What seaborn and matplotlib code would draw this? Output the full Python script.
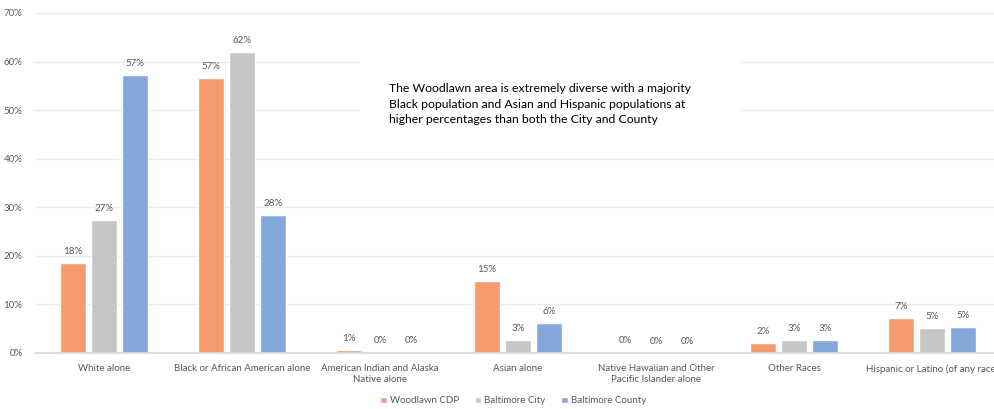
import matplotlib
matplotlib.use("Agg")
import matplotlib.pyplot as plt
import matplotlib.patches as mpatches
import pandas as pd
import seaborn as sns

# chart data (percent of population)
categories = ["White alone", "Black or African American alone",
              "American Indian and Alaska\nNative alone", "Asian alone",
              "Native Hawaiian and Other\nPacific Islander alone", "Other Races",
              "Hispanic or Latino (of any race)"]
series = ["Woodlawn CDP", "Baltimore City", "Baltimore County"]
woodlawn = [18.5, 56.7, 0.6, 14.9, 0.2, 2.1, 7.3]
city = [27.4, 61.9, 0.2, 2.6, 0.03, 2.6, 5.2]
county = [57.3, 28.5, 0.2, 6.1, 0.03, 2.6, 5.4]
colors = ["#F59B6E", "#C5C6C7", "#84A8D9"]
note = ("The Woodlawn area is extremely diverse with a majority\n"
        "Black population and Asian and Hispanic populations at\n"
        "higher percentages than both the City and County")

df = pd.DataFrame({
    "race": categories * 3,
    "pct": woodlawn + city + county,
    "area": [s for s in series for _ in categories],
})

sns.set_theme(style="white")
plt.rcParams["font.family"] = ["Lato", "DejaVu Sans"]

W, H = 995, 409
fig = plt.figure(figsize=(W / 100, H / 100), dpi=100)
ax = fig.add_axes([35 / W, (H - 353) / H, 966 / W, 340 / H])

sns.barplot(data=df, x="race", y="pct", hue="area", hue_order=series,
            palette=colors, width=0.674, gap=0.19, saturation=1, ax=ax, zorder=2)

ax.set_ylim(0, 70)
ax.set_xlim(-0.5, 6.5)
ax.set_yticks(range(0, 71, 10))
ax.set_yticklabels([f"{t}%" for t in range(0, 71, 10)])
ax.yaxis.grid(True, color="#ECECEC", linewidth=1, zorder=0)
ax.set_axisbelow(True)
for s in ["top", "right", "left"]:
    ax.spines[s].set_visible(False)
ax.spines["bottom"].set_color("#D9D9D9")
ax.tick_params(axis="both", length=0, labelsize=7, labelcolor="#595959")
ax.tick_params(axis="x", pad=8)
ax.tick_params(axis="y", pad=9)
ax.set_xlabel("")
ax.set_ylabel("")

for c in ax.containers:
    ax.bar_label(c, labels=[f"{v:.0f}%" for v in c.datavalues], padding=5,
                 fontsize=7, color="#595959")

handles, labels = ax.get_legend_handles_labels()
ax.legend(handles, labels, loc="center", bbox_to_anchor=(0.495, -0.141), ncol=3,
          frameon=False, fontsize=7, labelcolor="#595959", handlelength=0.7,
          handleheight=0.7, handletextpad=0.3, columnspacing=1.6)

# white note box covering the gridlines
fig.patches.append(mpatches.Rectangle((359 / W, (H - 150) / H), 381 / W, 95 / H,
                                      transform=fig.transFigure, facecolor="white",
                                      edgecolor="none", zorder=5))
fig.text(389 / W, (H - 104) / H, note, fontsize=8.8, color="#000000",
         va="center", ha="left", linespacing=1.55, zorder=6)

fig.savefig("out.png", dpi=100)
